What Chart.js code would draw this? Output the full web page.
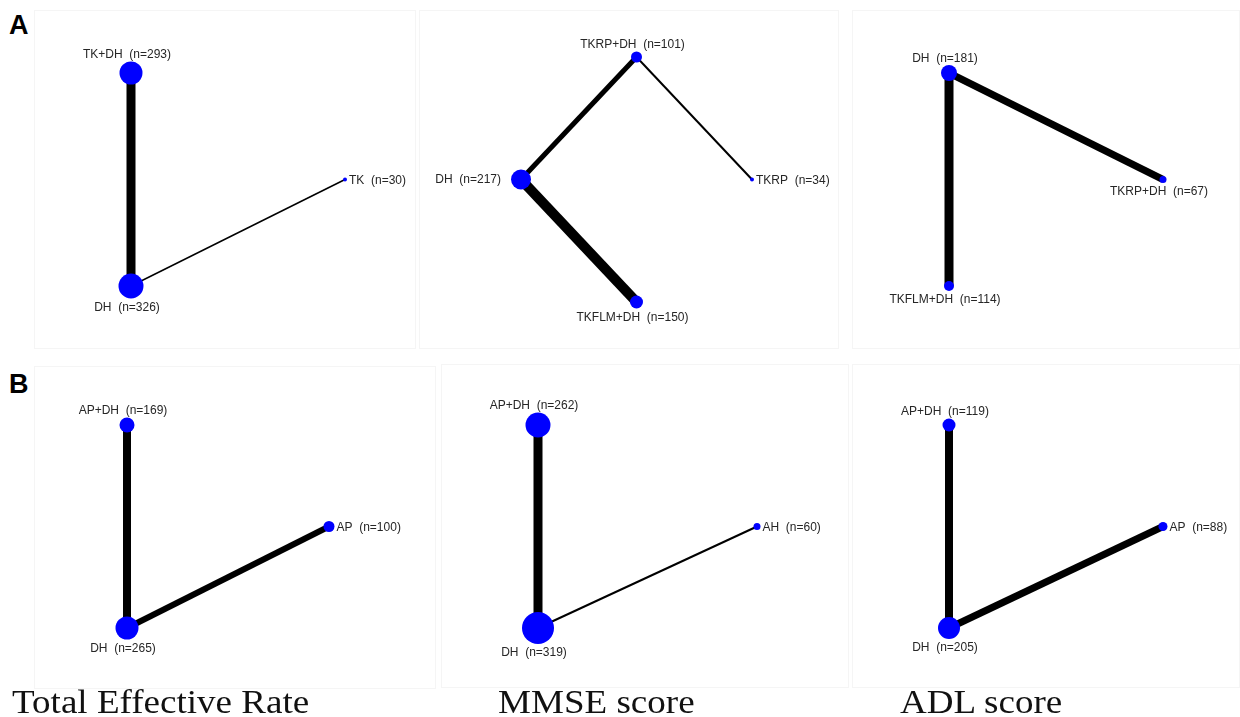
<!DOCTYPE html>
<html><head><meta charset="utf-8">
<script src="https://cdn.jsdelivr.net/npm/chart.js@4.4.1/dist/chart.umd.min.js"></script>
<style>
html,body{margin:0;padding:0;background:#fff;width:1240px;height:717px;overflow:hidden;position:relative}
canvas{position:absolute;outline:1px solid #f5f5f5}
.letter{position:absolute;font:bold 27px "Liberation Sans",Arial,sans-serif;line-height:27px;color:#000}
.title{position:absolute;font:34px "Liberation Serif","Times New Roman",serif;line-height:34px;color:#111;transform-origin:0 0;transform:scaleX(1.09);white-space:nowrap}
</style></head><body>
<div class="letter" style="left:9px;top:12px">A</div>
<div class="letter" style="left:9px;top:371px">B</div>
<canvas id="a1"></canvas><canvas id="a2"></canvas><canvas id="a3"></canvas>
<canvas id="b1"></canvas><canvas id="b2"></canvas><canvas id="b3"></canvas>
<div class="title" style="left:12px;top:685px">Total Effective Rate</div>
<div class="title" style="left:498px;top:685px">MMSE score</div>
<div class="title" style="left:900px;top:685px">ADL score</div>
<script>
// ---------- Panel titles ----------
const panelTitles = ['Total Effective Rate', 'MMSE score', 'ADL score'];

// ---------- A: Total Effective Rate ----------
const a1Nodes = ['TK+DH', 'DH', 'TK'];
const a1N = [293, 326, 30];
const a1LayoutX = [0, 0, 1];
const a1LayoutY = [1, 0, 0.5];
const a1Edges = [[0, 1], [1, 2]];
const a1EdgeWeight = [9, 1.5];
const a1NodeWeight = [11.5, 12.5, 2];

// ---------- A: MMSE score ----------
const a2Nodes = ['TKRP+DH', 'DH', 'TKRP', 'TKFLM+DH'];
const a2N = [101, 217, 34, 150];
const a2LayoutX = [0.5, 0, 1, 0.5];
const a2LayoutY = [1, 0.5, 0.5, 0];
const a2Edges = [[1, 0], [0, 2], [1, 3]];
const a2EdgeWeight = [5, 2, 10];
const a2NodeWeight = [5.5, 10, 2, 6.5];

// ---------- A: ADL score ----------
const a3Nodes = ['DH', 'TKRP+DH', 'TKFLM+DH'];
const a3N = [181, 67, 114];
const a3LayoutX = [0, 1, 0];
const a3LayoutY = [1, 0.5, 0];
const a3Edges = [[0, 2], [0, 1]];
const a3EdgeWeight = [9, 7];
const a3NodeWeight = [8, 3.5, 5];

// ---------- B: Total Effective Rate ----------
const b1Nodes = ['AP+DH', 'DH', 'AP'];
const b1N = [169, 265, 100];
const b1LayoutX = [0, 0, 1];
const b1LayoutY = [1, 0, 0.5];
const b1Edges = [[0, 1], [1, 2]];
const b1EdgeWeight = [8, 6];
const b1NodeWeight = [7.5, 11.5, 5.5];

// ---------- B: MMSE score ----------
const b2Nodes = ['AP+DH', 'DH', 'AH'];
const b2N = [262, 319, 60];
const b2LayoutX = [0, 0, 1];
const b2LayoutY = [1, 0, 0.5];
const b2Edges = [[0, 1], [1, 2]];
const b2EdgeWeight = [9, 2];
const b2NodeWeight = [12.5, 16, 3.5];

// ---------- B: ADL score ----------
const b3Nodes = ['AP+DH', 'DH', 'AP'];
const b3N = [119, 205, 88];
const b3LayoutX = [0, 0, 1];
const b3LayoutY = [1, 0, 0.5];
const b3Edges = [[0, 1], [1, 2]];
const b3EdgeWeight = [8, 7];
const b3NodeWeight = [6.5, 11, 4.5];

// ---------- Layout / style (not data) ----------
const panels = [
  {id:'a1', box:[35,11,380,337], ext:[131,345,73,286], place:['above','below','right'],
   nodes:a1Nodes, n:a1N, lx:a1LayoutX, ly:a1LayoutY, edges:a1Edges, ew:a1EdgeWeight, nw:a1NodeWeight},
  {id:'a2', box:[420,11,418,337], ext:[521,752,57,302], place:['above','left','right','below'],
   nodes:a2Nodes, n:a2N, lx:a2LayoutX, ly:a2LayoutY, edges:a2Edges, ew:a2EdgeWeight, nw:a2NodeWeight},
  {id:'a3', box:[853,11,386,337], ext:[949,1163,73,286], place:['above','below','below'],
   nodes:a3Nodes, n:a3N, lx:a3LayoutX, ly:a3LayoutY, edges:a3Edges, ew:a3EdgeWeight, nw:a3NodeWeight},
  {id:'b1', box:[35,367,400,321], ext:[127,329,425,628], place:['above','below','right'],
   nodes:b1Nodes, n:b1N, lx:b1LayoutX, ly:b1LayoutY, edges:b1Edges, ew:b1EdgeWeight, nw:b1NodeWeight},
  {id:'b2', box:[442,365,406,322], ext:[538,757,425,628], place:['above','below','right'],
   nodes:b2Nodes, n:b2N, lx:b2LayoutX, ly:b2LayoutY, edges:b2Edges, ew:b2EdgeWeight, nw:b2NodeWeight},
  {id:'b3', box:[853,365,386,322], ext:[949,1163,425,628], place:['above','below','right'],
   nodes:b3Nodes, n:b3N, lx:b3LayoutX, ly:b3LayoutY, edges:b3Edges, ew:b3EdgeWeight, nw:b3NodeWeight}
];

const nodeLabels = {
  id: 'nodeLabels',
  afterDatasetsDraw(chart, args, opts) {
    const p = opts.panel;
    const meta = chart.getDatasetMeta(0);
    const ctx = chart.ctx;
    ctx.save();
    ctx.font = '12px "Liberation Sans", Arial, sans-serif';
    ctx.fillStyle = '#262626';
    meta.data.forEach((pt, i) => {
      const r = p.nw[i];
      const txt = p.nodes[i] + '  (n=' + p.n[i] + ')';
      let x = pt.x, y = pt.y;
      const pl = p.place[i];
      ctx.textBaseline = 'middle';
      if (pl === 'above') { ctx.textAlign = 'center'; x -= 4; y = y - r - 6.5; }
      else if (pl === 'below') { ctx.textAlign = 'center'; x -= 4; y = y + r + 9; }
      else if (pl === 'right') { ctx.textAlign = 'left'; x = x + r + 2; y += 1; }
      else { ctx.textAlign = 'right'; x = x - r - 10; }
      ctx.fillText(txt, x, y);
    });
    ctx.restore();
  }
};

panels.forEach(p => {
  const cv = document.getElementById(p.id);
  const [L, T, W, H] = p.box;
  cv.width = W; cv.height = H;
  cv.style.left = L + 'px'; cv.style.top = T + 'px';
  cv.style.width = W + 'px'; cv.style.height = H + 'px';
  const [x0, x1, yTop, yBot] = p.ext;
  const pts = p.nodes.map((_, i) => ({x: p.lx[i], y: p.ly[i]}));
  const datasets = [{
    type: 'scatter',
    data: pts,
    pointRadius: p.nw.slice(),
    pointHoverRadius: p.nw.slice(),
    pointBackgroundColor: '#0000ff',
    pointBorderWidth: 0,
    clip: false,
    order: 0
  }];
  p.edges.forEach((e, k) => {
    datasets.push({
      type: 'line',
      data: [pts[e[0]], pts[e[1]]],
      borderColor: '#000',
      borderWidth: p.ew[k],
      borderCapStyle: 'butt',
      pointRadius: 0,
      pointHoverRadius: 0,
      fill: false,
      clip: false,
      order: 1
    });
  });
  new Chart(cv, {
    type: 'scatter',
    data: { datasets },
    options: {
      responsive: false,
      animation: false,
      devicePixelRatio: 1,
      events: [],
      layout: { padding: { left: x0 - L, right: (L + W) - x1, top: yTop - T, bottom: (T + H) - yBot } },
      scales: {
        x: { type: 'linear', min: 0, max: 1, display: false },
        y: { type: 'linear', min: 0, max: 1, display: false }
      },
      plugins: { legend: { display: false }, tooltip: { enabled: false }, nodeLabels: { panel: p } }
    },
    plugins: [nodeLabels]
  });
});
</script>
</body></html>
